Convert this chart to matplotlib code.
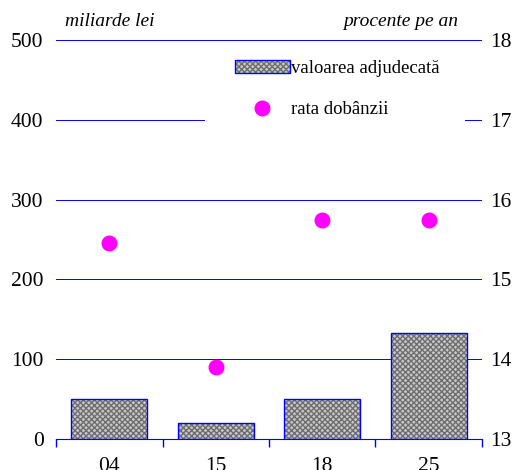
import numpy as np
import matplotlib
matplotlib.use("Agg")
import matplotlib.pyplot as plt
from matplotlib.patches import Rectangle, Patch
from matplotlib.lines import Line2D
from matplotlib.legend_handler import HandlerTuple

# date
categorii = ["04", "15", "18", "25"]
valoare = [50, 20, 50, 133]          # miliarde lei
rata = [15.45, 13.9, 15.75, 15.75]   # procente pe an

plt.rcParams['font.family'] = ['Liberation Serif', 'DejaVu Serif']
BLUE = '#0000ff'
HATCH_FACE = '#c8c8c8'
HATCH_LINE = '#6e6e6e'

fig = plt.figure(figsize=(5.17, 4.70), dpi=100)
ax = fig.add_axes([56 / 517, 31 / 470, 426 / 517, 399 / 470])
ax2 = ax.twinx()

x = np.arange(len(categorii))
# hasura gri, apoi conturul albastru
ax.bar(x, valoare, width=0.71, color=HATCH_FACE, edgecolor=HATCH_LINE,
       hatch='xxxxxx', linewidth=0, zorder=2)
ax.bar(x, valoare, width=0.71, color='none', edgecolor=BLUE,
       linewidth=1, zorder=3)

ax.set_ylim(0, 500)
ax.set_xlim(-0.5, len(categorii) - 0.5)
ax.set_yticks([0, 100, 200, 300, 400, 500])
ax.yaxis.grid(True, color=BLUE, linewidth=0.7, zorder=1)
ax.set_axisbelow(True)
ax.set_xticks(x)
ax.set_xticklabels(categorii)
ax.set_xticks(np.arange(len(categorii) + 1) - 0.5, minor=True)
ax.tick_params(axis='x', which='major', length=0, pad=13, labelsize=15.5)
ax.tick_params(axis='x', which='minor', length=6, color=BLUE, width=1,
               direction='out')
ax.tick_params(axis='y', length=0, pad=9, labelsize=15.5)
for s in ['top', 'left', 'right']:
    ax.spines[s].set_visible(False)
ax.spines['bottom'].set_color(BLUE)

ax2.scatter(x, rata, s=110, color='#ff00ff', zorder=4, clip_on=False)
ax2.set_ylim(13, 18)
ax2.set_yticks([13, 14, 15, 16, 17, 18])
ax2.tick_params(axis='y', length=0, pad=6, labelsize=15.5)
for s in ax2.spines.values():
    s.set_visible(False)

# fundal alb sub legenda
ax2.add_patch(Rectangle((0.35, 0.77), 0.61, 0.20, transform=ax2.transAxes,
                        facecolor='white', edgecolor='none', zorder=5))
bar_handle = (Patch(facecolor=HATCH_FACE, edgecolor=HATCH_LINE,
                    hatch='xxxxxx', linewidth=0),
              Patch(facecolor='none', edgecolor=BLUE, linewidth=1))
dot_handle = Line2D([], [], marker='o', linestyle='none', color='#ff00ff',
                    markersize=10.5)
leg = ax2.legend([bar_handle, dot_handle],
                 ["valoarea adjudecată", "rata dobânzii"],
                 handler_map={tuple: HandlerTuple(ndivide=1)},
                 loc='upper left', bbox_to_anchor=(0.42, 0.95),
                 frameon=False, fontsize=13.5, handlelength=2.93,
                 handleheight=0.65, handletextpad=0.05, labelspacing=1.3,
                 borderpad=0, borderaxespad=0)
leg.set_zorder(6)

ax.text(0.02, 1.025, "miliarde lei", transform=ax.transAxes, fontsize=14,
        style='italic', ha='left', va='bottom')
ax.text(0.944, 1.025, "procente pe an", transform=ax.transAxes, fontsize=14,
        style='italic', ha='right', va='bottom')

fig.savefig("out.png", dpi=100)
